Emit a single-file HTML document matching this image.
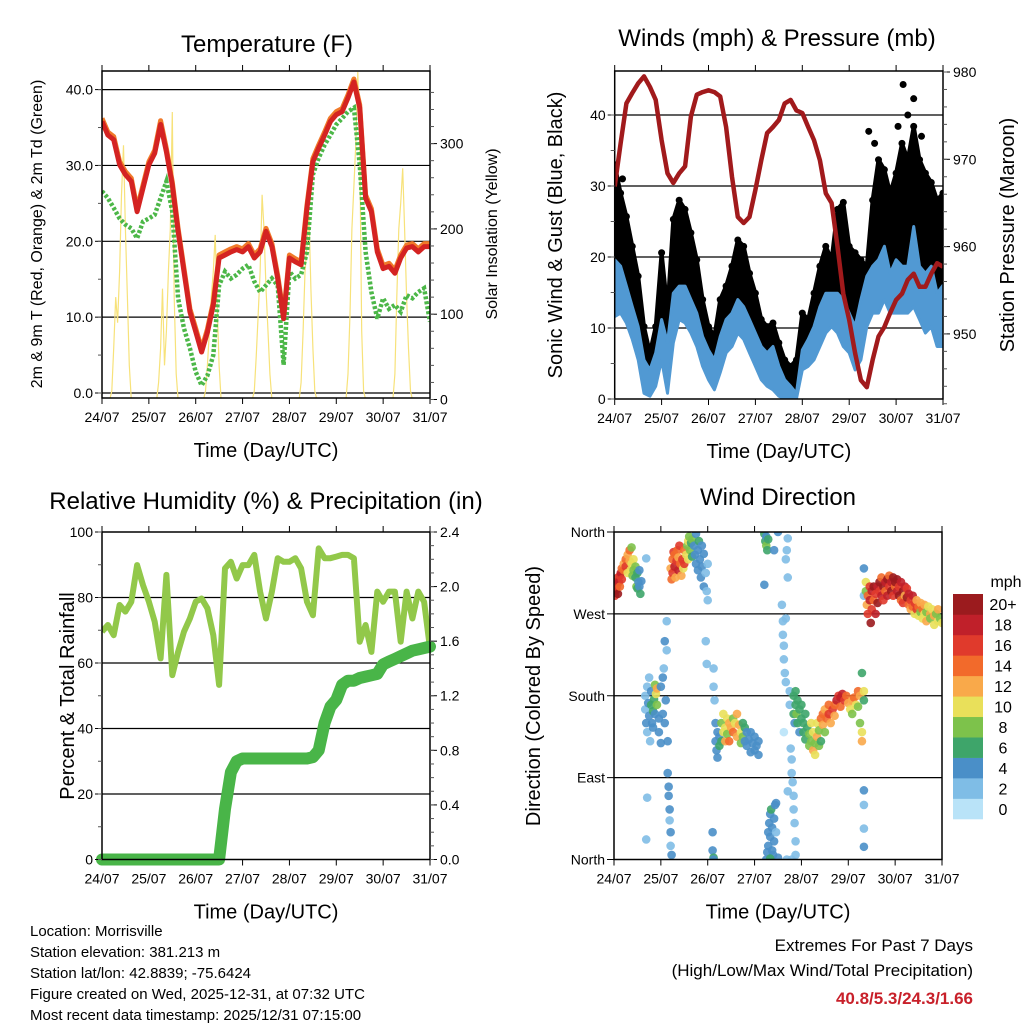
<!DOCTYPE html>
<html><head><meta charset="utf-8"><style>
body{margin:0;background:#fff}
svg{display:block;font-family:"Liberation Sans",sans-serif}
</style></head><body>
<svg id="s" width="1024" height="1024" viewBox="0 0 1024 1024" xmlns="http://www.w3.org/2000/svg">
<defs>
<clipPath id="c1"><rect x="102" y="71" width="328" height="327"/></clipPath>
<clipPath id="c2"><rect x="614.7" y="71" width="328.3" height="328"/></clipPath>
<clipPath id="c3"><rect x="102" y="532" width="328" height="327.5"/></clipPath>
<clipPath id="c4"><rect x="614" y="532" width="328" height="327.5"/></clipPath>
</defs>
<g id="g1"></g>
<g id="g2"></g>
<g id="g3"></g>
<g id="g4"></g>
<g font-size="15" fill="#000">
<text x="30" y="936">Location: Morrisville</text>
<text x="30" y="957">Station elevation: 381.213 m</text>
<text x="30" y="978">Station lat/lon: 42.8839; -75.6424</text>
<text x="30" y="999">Figure created on Wed, 2025-12-31, at 07:32 UTC</text>
<text x="30" y="1020">Most recent data timestamp: 2025/12/31 07:15:00</text>
</g>
<g text-anchor="end">
<text x="973" y="951" font-size="17">Extremes For Past 7 Days</text>
<text x="973" y="976" font-size="17">(High/Low/Max Wind/Total Precipitation)</text>
<text x="973" y="1004" font-size="17" font-weight="bold" fill="#c8202a">40.8/5.3/24.3/1.66</text>
</g>
</svg>
<script>
const NS="http://www.w3.org/2000/svg";
const dayLabels=["24/07","25/07","26/07","27/07","28/07","29/07","30/07","31/07"];
const step=3;
// Temperature (F), 3-hourly
const t2m=[35.8,34,33.4,30.1,28.8,27.9,23.9,27,30.1,31.6,35.4,31.8,27.4,21.3,16,10.7,8.1,5.4,8,11.6,17.8,18.2,18.6,18.9,18.6,19.3,17.8,18.6,21.3,19.3,15.1,9.8,17.8,17.3,16.9,24.4,30.5,32.3,34,35.8,36.7,37.1,38.9,41,37.6,25.7,23.9,18.6,16.4,16.7,15.8,17.8,19.1,19.3,18.6,19.3,19.3];
const t9m=[36.2,34.4,33.8,30.5,29.2,28.3,24.3,27.4,30.5,32,35.9,32.2,27.8,21.7,16.4,11.1,8.5,5.8,8.4,12,18.2,18.6,19,19.3,19,19.7,18.2,19,21.7,19.7,15.5,10.2,18.2,17.7,17.3,24.8,30.9,32.7,34.4,36.2,37.1,37.5,39.3,41.4,38,26.1,24.3,19,16.8,17.1,16.2,18.2,19.5,19.7,19,19.7,19.7];
const td2m=[26.6,25.7,24.4,23,22.2,21.7,20.4,22.6,23,23.5,25.7,27.9,23.9,12.5,8.5,5.9,2.8,1,2.3,5,14.2,16,15.1,15.6,16.4,16.9,14.7,13.3,14.2,15.1,14.2,3.7,16,15.1,15.6,18.6,28.8,31,32.7,34,35.4,36.2,37.1,37.6,30.1,18.6,13.3,9.8,12.5,11.1,11.6,10.7,12.9,12.5,13.3,13.8,9.4];
const solarHours=[0,4,5,6,7,8,9,10,11,12,13,14,15,28,29,30,31,32,33,34,35,36,37,38,39,52,53,54,55,56,57,58,59,60,61,77,78,79,80,81,82,83,84,85,86,87,101,102,103,104,105,106,107,108,109,110,125,126,127,128,129,130,131,132,133,134,135,149,150,151,152,153,154,155,156,157,158,159,168];
const solarVals=[0,0,10,60,120,90,150,240,298,200,120,40,0,0,20,60,130,40,80,150,200,337,120,30,0,0,10,40,80,120,150,193,110,40,0,0,10,50,100,150,240,200,130,80,30,0,0,20,80,150,180,216,130,60,10,0,0,30,100,200,250,300,384,300,80,10,0,0,30,120,200,230,271,200,120,60,10,0,0];
const tempTicks=[0,10,20,30,40];
const solarTicks=[0,100,200,300];
// Winds (mph) & pressure (mb)
const windHi=[19.6,18.7,15.9,13,10.2,5.5,4.1,6.5,11.2,7.9,14.9,15.9,15.9,14,12.1,8.8,6.9,5.5,8.8,11.2,12.1,14,13,11.2,9.3,7.4,6.5,7.4,4.6,2.7,1.8,0.8,6.9,8.4,10.2,13,14.9,14.9,14.9,14,12.1,10.2,14,17.3,18.7,19.6,21.5,17.7,19.6,18.7,18.7,24.3,18.7,17.7,18.7,14.9,16];
const windLo=[11.6,12.1,10.7,8.4,5.5,0.8,0.4,1.8,5.5,0.8,7.9,11.2,10.7,9.3,7.4,4.6,2.7,1.3,3.7,6.5,7.4,9.3,8.4,6.5,4.6,2.7,1.8,1.3,0.4,0,0,0,4.1,4.6,5.5,7.4,9.3,10.2,9.3,7.4,6.5,4.1,5.5,10.2,12.1,12.1,14,12.1,12.1,12.1,12.1,13,11.2,9.3,10.2,7.4,7.4];
const gust=[33,29,25.7,21.5,17.3,10.2,6.5,10.2,20.6,12.6,25.3,28,26.7,23.4,19.6,14,10.2,8.8,14,15.9,18.7,22.4,21.5,17.7,14.9,11.2,10.2,10.7,7.9,5.5,4.6,5.5,12.1,11.2,14.9,18.7,21.5,19.6,26.7,27.7,21.5,20.6,19.6,18.7,28,33.7,32.3,29,31.8,36,33.7,38.4,33.7,31.8,30.5,28,29];
const gustOutH=[147.6,153,145,130,157,1,4,133,150];
const gustOutV=[44.3,42.3,38.4,37.7,37,30,31,36,40];
const pressure=[966.9,971.8,976.4,977.6,978.7,979.5,978.3,976.8,972.2,968.4,967.3,968.4,969.2,974.9,977.4,977.7,977.9,977.7,977.2,973.7,968,963.4,962.7,963.4,966.5,969.9,973,973.7,974.5,976.4,976.8,975.6,975.3,973.7,972.2,969.9,966.1,965,960,954.6,951.6,947.8,944.7,943.9,947,949.7,950.8,952.4,953.9,954.6,956.2,956.9,955.4,955.4,956.9,958.1,957.7];
const windTicks=[0,10,20,30,40];
const presTicks=[950,960,970,980];
// RH (%) & precipitation (in)
const rh=[69.6,71.6,68.5,77.7,75.7,78.7,89.9,83.8,78.7,72.6,61.4,86.9,56.3,63.4,69.6,73.6,78.7,79.7,76.7,68.5,53.3,88.9,90.9,85.8,89.9,89.9,93,81.8,73.6,81.8,92,90.9,90.9,92,88.9,78.7,74.6,95,92,92,92.5,93,93,92,66.5,71.6,63.4,81.8,78.7,81.8,81.8,66.5,81.8,73.6,81.8,78.7,64.5];
const precip=[0,0,0,0,0,0,0,0,0,0,0,0,0,0,0,0,0,0,0,0,0,0.37,0.64,0.72,0.74,0.74,0.74,0.74,0.74,0.74,0.74,0.74,0.74,0.74,0.74,0.74,0.75,0.8,1.0,1.12,1.17,1.28,1.31,1.31,1.33,1.34,1.35,1.36,1.43,1.45,1.47,1.49,1.51,1.53,1.54,1.55,1.56];
const rhTicks=[0,20,40,60,80,100];
const precipTicks=[0,0.4,0.8,1.2,1.6,2.0,2.4];
// Wind direction obs: [hour, degrees, mph]
const dirObs=[[0,295,18],[0,300,20],[0.5,290,16],[1,305,20],[1,296,18],[1.5,300,16],[2,310,16],[2,292,20],[2.5,305,18],[3,300,14],[3,312,16],[3.5,315,18],[4,320,14],[4,308,16],[5,318,14],[5,325,12],[6,330,14],[6,322,16],[7,335,12],[7,315,10],[8,340,14],[8,328,12],[8.5,318,10],[9,343,8],[9,325,10],[9.5,312,8],[10,330,10],[10,318,8],[11,322,8],[11,310,6],[11.5,300,8],[12,315,6],[12,298,6],[12.5,305,4],[13,300,4],[13,318,4],[13.5,292,6],[14,306,4],[16.5,331,2],
[16,180,2],[16,165,2],[16.5,150,4],[17,190,2],[17,140,2],[17.5,172,4],[18,158,4],[18,200,2],[18.5,130,2],[19,170,6],[19,185,4],[19.5,150,4],[20,163,6],[20,145,4],[20.5,176,6],[21,192,8],[21,160,4],[21.5,182,10],[22,188,12],[22,170,8],[23,155,4],[23,140,4],[24,190,4],[24,128,4],[25,160,4],[25,200,4],[25.5,210,2],[26,150,4],[26,240,4],[26.5,175,4],[27,262,2],[27,230,2],[27.5,130,4],[27.5,95,4],[28,80,4],[28,70,4],[28.5,55,4],[28.5,43,2],[29,30,4],[29,15,2],[29.5,5,4],[17,68,2],[16.5,22,2],
[29,320,12],[29.5,308,14],[30,330,14],[30,315,16],[30.5,338,16],[31,322,18],[31,335,14],[31.5,310,12],[32,328,16],[32.5,340,14],[33,318,18],[33,332,12],[33.5,345,16],[34,325,14],[34.5,312,12],[35,330,16],[35.5,320,10],[36,340,14],[36,325,16],[37,335,10],[37.5,345,8],[38,350,10],[38,330,10],[38.5,355,8],[39,340,8],[39.5,348,6],[40,352,8],[40,333,6],[41,345,4],[41.5,335,4],[42,358,4],[42,325,4],[43,340,4],[43,318,4],[43.5,350,6],[44,330,4],[44.5,310,4],[45,345,4],[45,322,4],[46,300,4],[46,336,4],[47,315,2],[47.5,295,2],[48,325,2],[48,285,2],[47,240,2],[47.5,215,2],
[51,210,2],[51,190,2],[51.5,175,2],[52,150,4],[52,130,4],[52.5,120,4],[53,140,4],[53,112,4],[54,135,4],[54,125,6],[55,150,8],[55,130,6],[56,140,10],[56,160,10],[57,145,10],[57,130,12],[58,155,10],[58,138,8],[59,150,12],[59,130,14],[60,145,12],[61,140,14],[61,155,8],[62,150,10],[63,135,12],[63,160,12],[64,148,12],[65,140,10],[65,128,8],[66,150,6],[66,135,8],[67,145,6],[67,130,4],[68,140,4],[68,125,4],[69,132,4],[70,118,4],[70,140,4],[71,128,4],[72,135,4],[72,120,4],[73,125,4],[74,130,4],[74,115,4],[50.5,30,4],[50.5,10,4],[51,2,6],[51,0,4],
[77,358,6],[77.5,350,6],[78,345,8],[78,355,4],[78.5,340,6],[79,352,6],[84,360,4],[82,340,4],[77,302,4],[78,0,4],[78.5,8,4],[79,15,4],[79,30,4],[79.5,40,4],[80,25,4],[80,50,4],[80.5,55,6],[81,10,4],[81,35,4],[81.5,5,4],[82,45,4],[82,20,4],[82.5,60,4],[83,30,2],[83,62,4],[84,2,4],[80,1,6],
[86,280,2],[86.5,262,2],[86.5,247,2],[87,235,2],[87,220,2],[87.5,205,2],[88,195,2],[88,265,2],[88.5,340,2],[89,353,2],[89,310,2],[88,330,2],[90,185,2],[90,170,2],[90.5,122,2],[91,110,2],[91,95,2],[91.5,85,2],[92,70,2],[92,55,2],[92.5,40,2],[93,20,2],[93,5,2],[89,75,2],[87,140,0],[88.5,0,2],[91,0,2],
[92,180,6],[92,160,6],[92.5,150,4],[93,185,6],[93,170,6],[93.5,160,8],[94,150,6],[94,175,6],[95,140,4],[95,165,6],[96,155,6],[96,170,6],[97,150,6],[97,140,6],[98,160,6],[98,132,6],[99,145,6],[100,138,8],[100,125,8],[101,150,10],[101,130,8],[102,120,12],[102,140,10],[103,128,8],[103,115,10],[104,135,12],[104,150,10],[105,142,8],[105,125,8],[106,155,14],[106,130,6],[107,148,12],[107,160,14],[108,140,8],[108,165,12],[109,155,14],[110,160,16],[110,170,14],[111,150,12],[112,165,16],[113,170,14],[113,158,12],[114,175,18],[115,180,16],[116,178,18],[116,168,14],[117,182,18],[118,175,16],[119,180,14],[120,172,12],[121,165,10],[122,160,8],[122,175,12],[123,178,14],[124,170,10],[125,168,8],[125,185,14],[126,180,12],[126,150,8],[127,140,10],[127,205,6],[127,130,12],[128,76,4],[128,60,2],[128,34,2],[128,14,4],[128,320,4],[128,290,2],[128,175,6],[128,185,10],
[129,305,10],[129,295,8],[129.5,280,12],[130,290,14],[130,270,16],[131,300,16],[131,285,18],[131.5,260,20],[132,275,16],[132,295,18],[133,300,20],[133,285,14],[134,270,18],[134,292,16],[135,300,18],[135,282,20],[136,295,16],[136,305,20],[137,290,18],[137,310,14],[138,300,20],[138,285,16],[139,305,18],[139,295,14],[140,308,20],[140,290,18],[141,300,16],[141,312,14],[142,295,20],[142,305,18],[143,310,20],[143,290,16],[144,300,14],[144,305,20],[145,295,18],[145,308,20],[146,300,16],[146,290,20],[147,305,18],[147,285,14],[148,295,20],[148,282,16],[149,300,18],[149,290,12],[150,288,20],[150,298,16],[151,280,14],[151,292,18],[152,285,16],[152,275,12],[153,290,18],[153,278,14],[154,282,16],[154,270,10],[155,285,12],[155,275,16],[156,278,14],[156,268,10],[157,282,12],[157,272,8],[158,275,14],[158,265,10],[159,280,12],[159,270,10],[160,272,8],[160,262,12],[161,278,10],[162,270,12],[162,265,8],[163,275,10],[164,268,12],[164,258,10],[165,270,8],[166,262,10],[166,275,12],[167,265,8],[168,260,10]];
const dirTicks=[0,90,180,270,360];
const dirTickLabels=["North","East","South","West","North"];
const speedBins=["0","2","4","6","8","10","12","14","16","18","20+"];
const speedColors=["#b9e3f8","#7fbde6","#4a8fc8","#3ea56a","#7dc24b","#e9e05a","#f9a94a","#f26a2b","#e03a2c","#c0202a","#9b1b1e"];

function mk(parent,tag,attrs,text){const e=document.createElementNS(NS,tag);for(const k in attrs)e.setAttribute(k,attrs[k]);if(text!==undefined)e.textContent=text;parent.appendChild(e);return e;}
function pathFrom(pts){return pts.map((p,i)=>(i?"L":"M")+p[0].toFixed(1)+","+p[1].toFixed(1)).join("");}

function panel(g,P){
  // frame, grid, ticks, labels
  for(const v of P.gridVals){const y=P.y(v);const l=mk(g,"line",{x1:P.x0,x2:P.x1,y1:y,y2:y,stroke:"#000","stroke-width":1.2});
    }
  for(let d=0;d<8;d++){const x=P.x(d*24);
    mk(g,"line",{x1:x,x2:x,y1:P.y1,y2:P.y1+6,stroke:"#000"});
    mk(g,"line",{x1:x,x2:x,y1:P.y0,y2:P.y0-6,stroke:"#000"});
    const t=mk(g,"text",{x:x,y:P.y1+24,"font-size":14,"text-anchor":"middle"},dayLabels[d]);
    }
  const xt=mk(g,"text",{x:(P.x0+P.x1)/2,y:P.y1+59,"font-size":20,"text-anchor":"middle"},"Time (Day/UTC)");
  
  const tt=mk(g,"text",{x:P.titleX,y:P.titleY,"font-size":24,"text-anchor":"middle"},P.title);
  
}
function frame(g,P){const r=mk(g,"rect",{x:P.x0,y:P.y0,width:P.x1-P.x0,height:P.y1-P.y0,fill:"none",stroke:"#000","stroke-width":1.5});
  }
function leftTicks(g,P,vals,labels,minor,minorStep){
  for(let i=0;i<vals.length;i++){const y=P.y(vals[i]);mk(g,"line",{x1:P.x0-7,x2:P.x0,y1:y,y2:y,stroke:"#000"});
    const t=mk(g,"text",{x:P.x0-9,y:y+5,"font-size":14,"text-anchor":"end"},labels[i]);
    }
  if(minor){for(let v=vals[0];v<=vals[vals.length-1];v+=minorStep){const y=P.y(v);mk(g,"line",{x1:P.x0-4,x2:P.x0,y1:y,y2:y,stroke:"#555"});}}
}
function rightTicks(g,yf,x1,vals,labels,minorFrom,minorTo,minorStep){
  for(let i=0;i<vals.length;i++){const y=yf(vals[i]);mk(g,"line",{x1:x1,x2:x1+7,y1:y,y2:y,stroke:"#000"});
    const t=mk(g,"text",{x:x1+10,y:y+5,"font-size":14},labels[i]);
    }
  for(let v=minorFrom;v<=minorTo+1e-9;v+=minorStep){const y=yf(v);mk(g,"line",{x1:x1,x2:x1+4,y1:y,y2:y,stroke:"#555"});}
}
function vlabel(g,x,y,size,text,name){const t=mk(g,"text",{x:x,y:y,"font-size":size,"text-anchor":"middle",transform:`rotate(-90 ${x} ${y})`},text);
  }

// ---------- Panel 1: temperature ----------
(function(){
  const g=document.getElementById("g1");
  const P={x0:102,x1:430,y0:71,y1:398,title:"Temperature (F)",titleX:267,titleY:52,gridVals:tempTicks};
  P.x=h=>P.x0+h*(P.x1-P.x0)/168; P.y=t=>393-t*7.585;
  const ys=s=>399.5-s*0.853;
  panel(g,P);
  const d=mk(g,"g",{"clip-path":"url(#c1)"});
  const sp=mk(d,"path",{d:pathFrom(solarHours.map((h,i)=>[P.x(h),ys(solarVals[i])])),fill:"none",stroke:"#f7e27a","stroke-width":1.2});
  
  const gp=mk(d,"path",{d:pathFrom(td2m.map((v,i)=>[P.x(i*step),P.y(v)])),fill:"none",stroke:"#4cb748","stroke-width":4.5,"stroke-dasharray":"3 2"});
  
  const op=mk(d,"path",{d:pathFrom(t9m.map((v,i)=>[P.x(i*step),P.y(v)])),fill:"none",stroke:"#f07a2a","stroke-width":5,"stroke-linejoin":"round"});
  
  const rp=mk(d,"path",{d:pathFrom(t2m.map((v,i)=>[P.x(i*step),P.y(v)])),fill:"none",stroke:"#d42322","stroke-width":5,"stroke-linejoin":"round"});
  
  frame(g,P);
  leftTicks(g,P,tempTicks,tempTicks.map(v=>v.toFixed(1)),true,5);
  rightTicks(g,ys,P.x1,solarTicks,solarTicks.map(String),0,360,20);
  vlabel(g,42,234,16,"2m & 9m T (Red, Orange) & 2m Td (Green)","y-axis-title");
  vlabel(g,497,234,16,"Solar Insolation (Yellow)","y2-axis-title");
})();

// ---------- Panel 2: winds ----------
(function(){
  const g=document.getElementById("g2");
  const P={x0:614.7,x1:943,y0:71,y1:399,title:"Winds (mph) & Pressure (mb)",titleX:777,titleY:46,gridVals:[10,20,30,40]};
  P.x=h=>P.x0+h*(P.x1-P.x0)/168; P.y=w=>399-w*7.1;
  const yp=p=>72+(980-p)*8.73;
  panel(g,P);
  const d=mk(g,"g",{"clip-path":"url(#c2)"});
  const top=gust.map((v,i)=>[P.x(i*step),P.y(v)]), mid=windHi.map((v,i)=>[P.x(i*step),P.y(v)]), low=windLo.map((v,i)=>[P.x(i*step),P.y(v)]);
  const ga=mk(d,"path",{d:pathFrom(top.concat(mid.slice().reverse()))+"Z",fill:"#000",stroke:"#000","stroke-width":4,"stroke-linejoin":"round"});
  
  for(let i=0;i<gust.length;i++){const c=mk(d,"circle",{cx:P.x(i*step),cy:P.y(gust[i]),r:3.5,fill:"#000"});
    }
  for(let i=0;i<gustOutH.length;i++){const c=mk(d,"circle",{cx:P.x(gustOutH[i]),cy:P.y(gustOutV[i]),r:3.5,fill:"#000"});
    }
  const wa=mk(d,"path",{d:pathFrom(mid.concat(low.slice().reverse()))+"Z",fill:"#5199d3",stroke:"#5199d3","stroke-width":3,"stroke-linejoin":"round"});
  
  const pp=mk(d,"path",{d:pathFrom(pressure.map((v,i)=>[P.x(i*step),yp(v)])),fill:"none",stroke:"#a11a1c","stroke-width":4.5,"stroke-linejoin":"round"});
  
  frame(g,P);
  leftTicks(g,P,windTicks,windTicks.map(String),true,5);
  rightTicks(g,yp,P.x1,presTicks,presTicks.map(String),942,980,2);
  vlabel(g,562,235,20,"Sonic Wind & Gust (Blue, Black)","y-axis-title");
  vlabel(g,1014,235,20,"Station Pressure (Maroon)","y2-axis-title");
})();

// ---------- Panel 3: RH & precip ----------
(function(){
  const g=document.getElementById("g3");
  const P={x0:102,x1:430,y0:532,y1:859.5,title:"Relative Humidity (%) & Precipitation (in)",titleX:266,titleY:509,gridVals:[20,40,60,80]};
  P.x=h=>P.x0+h*(P.x1-P.x0)/168; P.y=r=>859.5-r*3.275;
  const yr=v=>859.5-v*136.46;
  panel(g,P);
  const d=mk(g,"g",{"clip-path":"url(#c3)"});
  const hp=mk(d,"path",{d:pathFrom(rh.map((v,i)=>[P.x(i*step),P.y(v)])),fill:"none",stroke:"#92c84a","stroke-width":6,"stroke-linejoin":"round"});
  
  const pr=mk(g,"path",{d:pathFrom(precip.map((v,i)=>[P.x(i*step),yr(v)])),fill:"none",stroke:"#49b548","stroke-width":12,"stroke-linejoin":"round","stroke-linecap":"round"});
  
  frame(g,P);
  leftTicks(g,P,rhTicks,rhTicks.map(String),true,10);
  rightTicks(g,yr,P.x1,precipTicks,precipTicks.map(v=>v.toFixed(1)),0,2.4,0.1);
  vlabel(g,74,696,20,"Percent & Total Rainfall","y-axis-title");
})();

// ---------- Panel 4: wind direction ----------
(function(){
  const g=document.getElementById("g4");
  const P={x0:614,x1:942,y0:532,y1:859.5,title:"Wind Direction",titleX:778,titleY:505,gridVals:[90,180,270]};
  P.x=h=>P.x0+h*(P.x1-P.x0)/168; P.y=dg=>859.5-dg*(327.5/360);
  panel(g,P);
  const d=mk(g,"g",{"clip-path":"url(#c4)"});
  for(const o of dirObs){const bin=Math.min(10,Math.floor(o[2]/2));
    const c=mk(d,"circle",{cx:P.x(o[0]),cy:P.y(o[1]),r:4.3,fill:speedColors[bin],"fill-opacity":0.9});
    }
  frame(g,P);
  leftTicks(g,P,dirTicks,dirTickLabels,false,0);
  vlabel(g,540,696,20,"Direction (Colored By Speed)","y-axis-title");
  // colorbar
  const cb=mk(g,"g",{});
  const bh=(819-594)/speedBins.length;
  for(let i=0;i<speedBins.length;i++){const y=819-(i+1)*bh;
    const r=mk(cb,"rect",{x:953,y:y,width:30,height:bh+0.3,fill:speedColors[i]});
    
    const t=mk(cb,"text",{x:1003,y:y+bh/2+6,"font-size":16,"text-anchor":"middle"},speedBins[i]);
    }
  const u=mk(cb,"text",{x:1006,y:587,"font-size":16,"text-anchor":"middle"},"mph");
  
})();
</script>
</body></html>
